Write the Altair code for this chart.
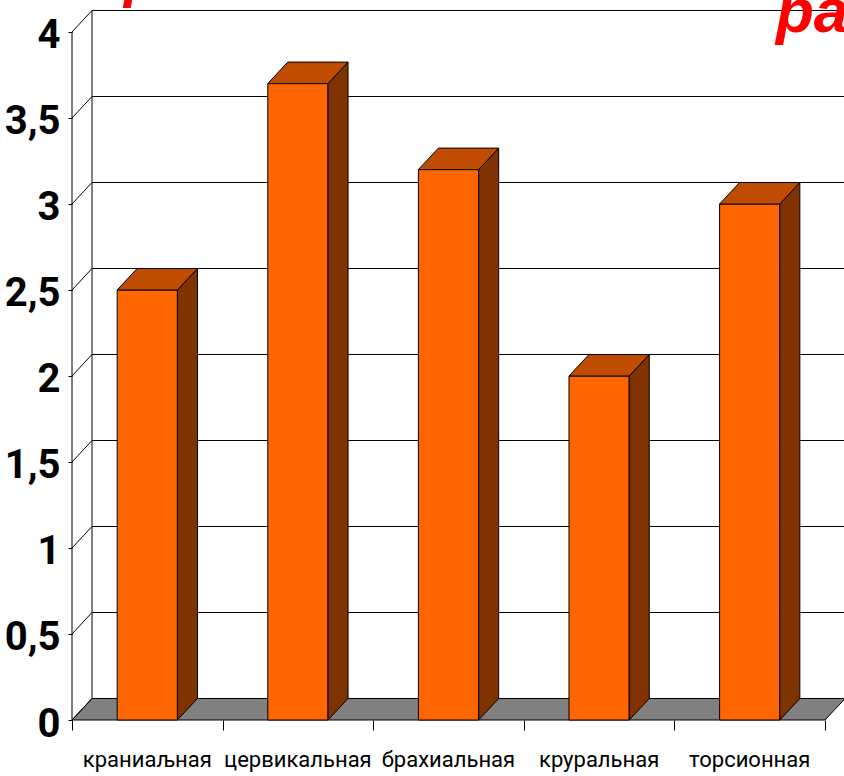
import altair as alt
import pandas as pd

# ---- data ----
categories = ["краниаљная", "цервикальная", "брахиальная", "круральная", "торсионная"]
values = [2.5, 3.7, 3.2, 2.0, 3.0]
y_ticks = [0, 0.5, 1, 1.5, 2, 2.5, 3, 3.5, 4]
title_fragments = ["р", "ра"]

# ---- geometry / style constants ----
DX = 0.133      # depth offset in category units
DY = 0.125      # depth offset in value units
BAR_L, BAR_R = 0.3, 0.7
X_MAX = 5.126
Y_MAX = 4.186
N = len(categories)

FRONT = "#FF6600"
SIDE = "#803300"
TOP = "#BF4C00"
FLOOR = "#808080"
NARROW = "Roboto, 'Liberation Sans', sans-serif"

front = pd.DataFrame({
    "cat": categories,
    "x": [i + BAR_L for i in range(N)],
    "x2": [i + BAR_R for i in range(N)],
    "y": [0.0] * N,
    "y2": values,
})

side_rows, top_rows = [], []
for i, v in enumerate(values):
    xl, xr = i + BAR_L, i + BAR_R
    side_rows += [
        {"id": i, "x": xr, "y": 0.0, "y2": v},
        {"id": i, "x": xr + DX, "y": DY, "y2": v + DY},
    ]
    top_rows += [
        {"id": i, "x": xl, "y": v, "y2": v},
        {"id": i, "x": xl + DX, "y": v, "y2": v + DY},
        {"id": i, "x": xr, "y": v, "y2": v + DY},
        {"id": i, "x": xr + DX, "y": v + DY, "y2": v + DY},
    ]
side = pd.DataFrame(side_rows)
top = pd.DataFrame(top_rows)

floor = pd.DataFrame([
    {"id": 0, "x": 0.0, "y": 0.0, "y2": 0.0},
    {"id": 0, "x": DX, "y": 0.0, "y2": DY},
    {"id": 0, "x": float(N), "y": 0.0, "y2": DY},
    {"id": 0, "x": N + DX, "y": DY, "y2": DY},
])

grid = pd.DataFrame({"y": [t + DY for t in y_ticks], "x": [DX] * len(y_ticks),
                     "x2": [N + DX] * len(y_ticks)})
diag = pd.DataFrame({"x": [0.0] * len(y_ticks), "x2": [DX] * len(y_ticks),
                     "y": y_ticks, "y2": [t + DY for t in y_ticks]})
wall = pd.DataFrame({"x": [DX], "y": [DY + min(y_ticks)], "y2": [DY + max(y_ticks)]})
faxis = pd.DataFrame({"x": [0.0], "y": [min(y_ticks)], "y2": [max(y_ticks)]})
labels = pd.DataFrame({"cat": categories, "x": [i + 0.5 for i in range(N)]})

# ---- scales and axes (identical across layers) ----
xs = alt.Scale(domain=[0, X_MAX], nice=False, zero=False)
ys = alt.Scale(domain=[0, Y_MAX], nice=False, zero=False)
xaxis = alt.Axis(values=list(range(N + 1)), labels=False, domain=False, grid=False,
                 tickSize=10, tickColor="black", tickWidth=1, title=None)
yaxis = alt.Axis(values=y_ticks, labelExpr="replace(format(datum.value, '~g'), '.', ',')",
                 domain=False, grid=False, tickSize=4, tickColor="black", tickWidth=1,
                 labelFont=NARROW, labelFontSize=40, labelFontWeight="bold",
                 labelColor="black", labelPadding=8, labelOffset=4, title=None)


def X(f="x"):
    return alt.X(f"{f}:Q", scale=xs, axis=xaxis)


def Y(f="y"):
    return alt.Y(f"{f}:Q", scale=ys, axis=yaxis)


line_style = dict(color="black", strokeWidth=1)

floor_layer = alt.Chart(floor).mark_area(fill=FLOOR, stroke="black", strokeWidth=1).encode(
    x=X(), y=Y(), y2="y2:Q", detail="id:N")
grid_layer = alt.Chart(grid).mark_rule(**line_style).encode(x=X(), x2="x2:Q", y=Y())
diag_layer = alt.Chart(diag).mark_rule(**line_style).encode(x=X(), x2="x2:Q", y=Y(), y2="y2:Q")
wall_layer = alt.Chart(wall).mark_rule(**line_style).encode(x=X(), y=Y(), y2="y2:Q")
faxis_layer = alt.Chart(faxis).mark_rule(**line_style).encode(x=X(), y=Y(), y2="y2:Q")

front_layer = alt.Chart(front).mark_bar(fill=FRONT, stroke="black", strokeWidth=1).encode(
    x=X(), x2="x2:Q", y=Y(), y2="y2:Q")
side_layer = alt.Chart(side).mark_area(fill=SIDE, stroke="black", strokeWidth=1).encode(
    x=X(), y=Y(), y2="y2:Q", detail="id:N")
top_layer = alt.Chart(top).mark_area(fill=TOP, stroke="black", strokeWidth=1).encode(
    x=X(), y=Y(), y2="y2:Q", detail="id:N")

label_layer = alt.Chart(labels).mark_text(
    font=NARROW, fontSize=22, color="black", baseline="alphabetic",
    align="center").encode(x=X(), y=alt.value(767), text="cat:N")

frag_left = alt.Chart(pd.DataFrame({"t": [title_fragments[0]]})).mark_text(
    font="Liberation Sans", fontSize=58, fontWeight="bold", fontStyle="italic",
    color="#FF0000", align="left", baseline="alphabetic").encode(
    x=alt.value(52), y=alt.value(-4), text="t:N")
frag_right = alt.Chart(pd.DataFrame({"t": [title_fragments[1]]})).mark_text(
    font="Liberation Sans", fontSize=62, fontWeight="bold", fontStyle="italic",
    color="#FF0000", align="left", baseline="alphabetic").encode(
    x=alt.value(704), y=alt.value(32), text="t:N")

chart = alt.layer(
    floor_layer, grid_layer, diag_layer, wall_layer, faxis_layer,
    front_layer, side_layer, top_layer, label_layer, frag_left, frag_right,
).properties(
    width=772, height=720,
    padding={"left": 72, "top": 0, "right": 0, "bottom": 56},
    autosize=alt.AutoSizeParams(type="none"),
    background="white",
).configure_view(stroke=None)

chart.save("out.html", embed_options={"renderer": "svg", "actions": False})
